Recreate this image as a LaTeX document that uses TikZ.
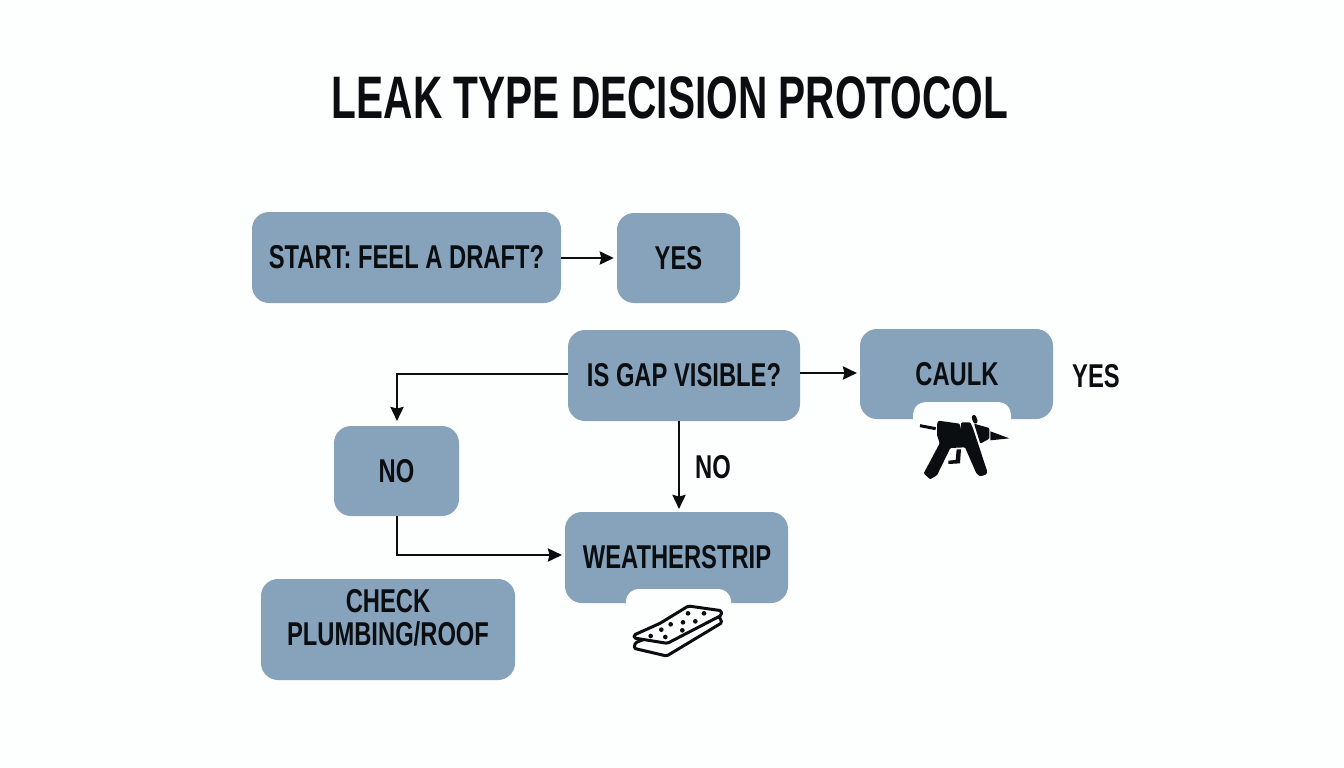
\documentclass[tikz,border=0pt]{standalone}
\usepackage{fontspec}
\setmainfont{Liberation Sans}[FakeStretch=0.72,BoldFont=Liberation Sans Bold]
\newfontfamily\titlefont{Liberation Sans Bold}[FakeStretch=0.677]
\definecolor{boxblue}{HTML}{87A2BB}
\definecolor{ink}{HTML}{0B0E11}
\definecolor{paper}{HTML}{FDFEFE}
\usetikzlibrary{arrows.meta}
\tikzset{
  x=1pt,y=-1pt,
  flow/.style={fill=boxblue,rounded corners=17pt,inner sep=0pt,align=center,text=ink,font=\fontsize{33}{33}\selectfont\bfseries},
  lab/.style={text=ink,inner sep=0pt,align=center,font=\fontsize{33}{33}\selectfont\bfseries},
  conn/.style={draw=ink,line width=2.8pt,-{Stealth[length=14pt,width=13pt,inset=1.5pt]}},
  notch/.style={fill=paper,draw=none},
  plate/.style={draw=ink,line width=3pt,fill=paper,line join=round,rounded corners=1.5pt},
}
\begin{document}
\begin{tikzpicture}
\path[fill=paper] (0,0) rectangle (1344,768);
\useasboundingbox (0,0) rectangle (1344,768);
\node[inner sep=0pt,text=ink,font=\fontsize{60}{66}\selectfont\titlefont] (title) at (670,98) {LEAK TYPE DECISION PROTOCOL};
\node[flow,minimum width=309pt,minimum height=91pt] (start) at (406.5,257.5) {START: FEEL A DRAFT?};
\node[flow,minimum width=123pt,minimum height=90pt] (yes1) at (678.5,258) {YES};
\node[flow,minimum width=232pt,minimum height=91pt] (gap) at (684,375.5) {IS GAP VISIBLE?};
\node[flow,minimum width=193pt,minimum height=90pt] (caulk) at (956.5,374) {};
\node[flow,minimum width=125pt,minimum height=90pt] (no1) at (396.5,471) {NO};
\node[flow,minimum width=223pt,minimum height=91pt] (ws) at (676.5,557.5) {};
\node[flow,minimum width=254pt,minimum height=101pt] (check) at (388,629.5) {};
% notches
\path[notch] (913,420) -- (913,417) .. controls (913,407) and (918,402) .. (928,402) -- (996,402) .. controls (1006,402) and (1011,407) .. (1011,417) -- (1011,420) -- cycle;
\path[notch] (626,604) -- (626,601) .. controls (627,593) and (632,589) .. (640,589) -- (717,589) .. controls (725,589) and (730,593) .. (731,601) -- (731,604) -- cycle;
\node[lab] (caulklab) at (957,374) {CAULK};
\node[lab] (wslab) at (677,557) {WEATHERSTRIP};
\node[lab] (checklab) at (388,618) {CHECK\\PLUMBING/ROOF};
\node[lab] (yes2) at (1096,376) {YES};
\node[lab] (no2) at (713,467) {NO};
% connectors
\coordinate (gapleft) at (568,374);
\coordinate (gapright) at (800,373);
\coordinate (gapdown) at (679,421);
\coordinate (wsin) at (679,512);
\coordinate (noin) at (397,424);
\coordinate (noout) at (397,516);
\coordinate (wsleft) at (565,555);
\coordinate (caulkin) at (860,373);
\draw[conn,shorten >=3pt] (start.east |- yes1.west) -- (yes1.west);
\draw[conn,shorten >=3pt] (gapright) -- (caulkin);
\draw[conn,shorten >=3pt] (gapleft) -| (noin);
\draw[conn,shorten >=3pt] (gapdown) -- (wsin);
\draw[conn,shorten >=3pt] (noout) |- (wsleft);
% caulk gun
\begin{scope}[shift={(915,410)},scale=1/3]
\draw[ink,line width=3pt] (15,47) -- (62,56);
\draw[ink,line width=4.6pt,line cap=round] (177,22) -- (181,34);
\fill[ink,rounded corners=1pt] (66,42) -- (70,32) -- (134,41) -- (137,58) -- (139,37) -- (166,37) -- (174,55) -- (217,185) -- (213,194) -- (195,199) -- (184,190) -- (150,112) -- (106,114) -- (66,196) -- (45,208) -- (26,190) -- (74,100) -- (66,75) -- cycle;
\fill[ink,rounded corners=1pt] (177,41) -- (223,54) -- (223,86) -- (196,101) -- cycle;
\fill[ink] (226,64) -- (283,85) -- (226,91) -- cycle;
\fill[ink] (125,118) -- (138,118) -- (135,160) -- (100,162) -- (100,152) -- (122,150) -- cycle;
\end{scope}
% weatherstrip icon
\begin{scope}[shift={(560,500)},scale=1/3]
\draw[plate] (300,400) -- (226,428) -- (222,445) -- (320,468) -- (486,368) -- (478,350) -- cycle;
\draw[plate] (300,370) -- (385,318) -- (484,332) -- (484,346) -- (322,430) -- (222,414) -- (222,405) -- cycle;
\foreach \px/\py in {384/340,432/340,369/367,406/364,332/373,304/389,367/391,272/408,316/411}
  \fill[ink] (\px,\py) circle (7);
\end{scope}
\end{tikzpicture}
\end{document}
